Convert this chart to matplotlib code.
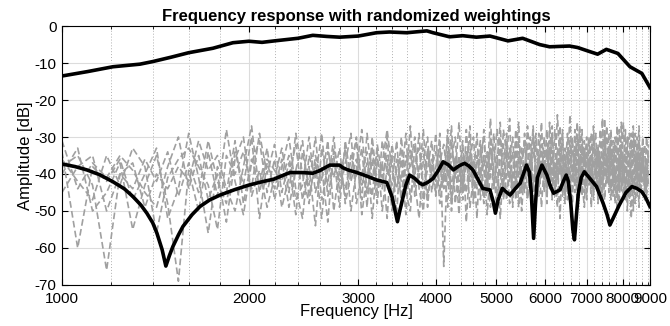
import matplotlib
matplotlib.use('Agg')
import matplotlib.pyplot as plt
from matplotlib.ticker import FixedLocator, NullFormatter

plt.rcParams['font.family'] = ['Liberation Sans', 'DejaVu Sans']
plt.rcParams['axes.unicode_minus'] = False

# black curve: overall frequency response
top_freq = [1000, 1100, 1208, 1335, 1400, 1500, 1600, 1750, 1885, 2000, 2100, 2200,
            2400, 2535, 2670, 2800, 3000, 3210, 3370, 3590, 3870, 3960, 4210, 4420,
            4650, 4890, 5230, 5520, 5880, 6100, 6570, 6770, 7080, 7290, 7530, 7860,
            8220, 8590, 8850]
top_db = [-13.5, -12.3, -11.0, -10.3, -9.6, -8.4, -7.2, -6.0, -4.5, -4.1, -4.4, -4.0,
          -3.3, -2.5, -2.8, -3.0, -2.7, -1.8, -1.6, -1.8, -1.3, -1.8, -2.9, -2.6,
          -3.0, -2.7, -4.0, -3.3, -5.0, -5.6, -5.4, -5.8, -6.9, -7.6, -6.3, -7.4,
          -11.0, -12.8, -16.6]

# black curve: lower response
low_freq = [1000, 1050, 1097, 1150, 1208, 1260, 1301, 1340, 1370, 1400, 1422, 1450,
            1470, 1490, 1509, 1540, 1566, 1620, 1668, 1730, 1797, 1900, 2000, 2100,
            2194, 2260, 2330, 2430, 2535, 2600, 2700, 2800, 2833, 2900, 2985, 3100,
            3210, 3335, 3400, 3440, 3470, 3500, 3540, 3580, 3630, 3700, 3770, 3810,
            3880, 3960, 4040, 4110, 4190, 4270, 4360, 4450, 4520, 4590, 4680, 4760,
            4890, 4950, 4990, 5040, 5120, 5190, 5270, 5370, 5470, 5550, 5600, 5660,
            5700, 5750, 5790, 5830, 5930, 6040, 6110, 6190, 6340, 6420, 6490, 6540,
            6600, 6650, 6690, 6740, 6790, 6860, 6940, 7100, 7260, 7440, 7550, 7630,
            7720, 7900, 8100, 8280, 8430, 8590, 8720, 8850]
low_db = [-37.3, -38.0, -38.9, -40.2, -42.1, -44.0, -46.1, -48.4, -50.6, -53.2, -56.0, -60.5,
          -64.9, -62.0, -59.6, -56.5, -54.2, -51.0, -48.8, -47.0, -45.7, -44.2, -43.0, -42.1,
          -41.4, -40.5, -39.6, -39.6, -39.8, -39.1, -37.6, -37.6, -38.3, -39.0, -39.6, -40.6,
          -41.6, -42.3, -46.1, -50.0, -52.9, -50.0, -46.5, -43.0, -40.3, -41.2, -42.5, -42.9,
          -42.3, -41.2, -39.0, -36.7, -37.5, -38.9, -37.8, -37.1, -37.8, -38.9, -41.5, -43.9,
          -44.3, -47.5, -50.6, -47.0, -43.9, -44.8, -45.7, -44.0, -42.5, -39.5, -37.6, -39.5,
          -45.0, -57.4, -48.0, -41.0, -37.6, -40.3, -43.0, -45.2, -44.3, -42.0, -40.3, -42.0,
          -48.0, -55.0, -57.8, -51.0, -45.0, -41.0, -39.4, -41.4, -43.4, -47.9, -51.0, -53.8,
          -52.0, -48.4, -45.0, -43.4, -43.9, -44.8, -46.5, -48.8]

# gray curves: responses with randomized weightings (60 Hz bins)
gray_freq = list(range(1000, 8801, 60))
gray_a = [-34, -60, -38, -42, -36, -47, -40, -33, -52, -44,
          -29, -41, -56, -38, -45, -31, -48, -36, -43, -33,
          -47, -38, -30, -44, -52, -35, -41, -29, -46, -37,
          -42, -33, -50, -39, -28, -45, -36, -48, -31, -40,
          -35, -51, -30, -43, -27, -46, -38, -33, -49, -36,
          -42, -29, -65, -34, -47, -40, -26, -44, -37, -31,
          -48, -35, -41, -28, -45, -33, -39, -50, -30, -43,
          -36, -25, -46, -38, -32, -44, -29, -41, -35, -48,
          -31, -39, -26, -45, -37, -33, -47, -28, -42, -36,
          -30, -44, -38, -24, -41, -34, -49, -29, -40, -35,
          -45, -31, -37, -27, -43, -33, -39, -48, -30, -36,
          -42, -28, -46, -35, -31, -44, -38, -26, -40, -34,
          -47, -32, -37, -29, -43, -36, -41, -33, -45, -38, -40]
gray_b = [-40, -33, -50, -45, -37, -55, -43, -35, -48, -69,
          -39, -50, -34, -46, -28, -42, -51, -37, -31, -45,
          -36, -49, -41, -32, -47, -38, -54, -33, -43, -30,
          -45, -37, -29, -48, -40, -34, -52, -36, -44, -30,
          -47, -39, -33, -45, -50, -32, -41, -28, -46, -38,
          -34, -48, -40, -30, -44, -36, -51, -33, -39, -27,
          -43, -37, -31, -46, -40, -25, -44, -35, -52, -38,
          -29, -42, -34, -47, -30, -39, -45, -27, -36, -43,
          -38, -46, -32, -40, -28, -44, -35, -41, -24, -37,
          -43, -33, -47, -36, -30, -45, -38, -27, -42, -49,
          -34, -40, -29, -44, -37, -32, -46, -25, -41, -35,
          -38, -47, -31, -43, -36, -28, -45, -39, -33, -50,
          -35, -42, -27, -39, -46, -31, -40, -36, -44, -30, -37]
gray_c = [-31, -44, -37, -41, -35, -39, -45, -49, -38, -30,
          -44, -35, -47, -40, -53, -36, -30, -46, -39, -49,
          -41, -33, -45, -29, -40, -48, -35, -42, -31, -50,
          -38, -46, -35, -41, -33, -49, -30, -43, -37, -52,
          -32, -40, -46, -35, -38, -30, -44, -50, -34, -41,
          -29, -45, -37, -49, -31, -41, -35, -47, -28, -42,
          -36, -52, -33, -39, -45, -30, -42, -37, -26, -47,
          -40, -33, -49, -28, -41, -36, -31, -46, -38, -27,
          -44, -34, -41, -30, -48, -26, -39, -45, -33, -40,
          -28, -46, -35, -41, -32, -39, -26, -44, -37, -31,
          -47, -36, -42, -30, -38, -45, -28, -40, -34, -43,
          -29, -39, -35, -48, -27, -41, -33, -46, -37, -30,
          -40, -52, -34, -44, -30, -38, -45, -33, -41, -36, -43]
gray_d = [-36, -42, -47, -35, -43, -33, -38, -56, -41, -36,
          -33, -38, -43, -55, -35, -40, -34, -44, -29, -40,
          -32, -45, -37, -51, -34, -43, -30, -47, -39, -35,
          -49, -31, -42, -36, -47, -29, -41, -34, -50, -38,
          -43, -31, -48, -37, -33, -42, -52, -36, -30, -45,
          -38, -33, -44, -28, -50, -35, -42, -31, -53, -36,
          -30, -44, -38, -48, -34, -41, -29, -46, -36, -32,
          -47, -37, -30, -43, -35, -50, -38, -32, -44, -29,
          -41, -35, -49, -37, -33, -42, -30, -46, -36, -52,
          -35, -40, -29, -47, -37, -43, -33, -39, -28, -45,
          -38, -30, -49, -36, -41, -34, -44, -31, -47, -39,
          -33, -44, -40, -30, -46, -37, -32, -42, -28, -45,
          -38, -29, -50, -35, -41, -27, -44, -37, -32, -46, -39]
gray_e = [-45, -38, -35, -50, -40, -44, -36, -42, -34, -46,
          -37, -45, -31, -42, -48, -34, -43, -30, -52, -37,
          -44, -36, -49, -39, -31, -46, -37, -52, -34, -41,
          -33, -48, -40, -30, -43, -37, -46, -32, -41, -35,
          -50, -36, -42, -29, -47, -37, -33, -43, -39, -31,
          -46, -37, -32, -41, -27, -48, -38, -44, -34, -49,
          -41, -29, -47, -35, -51, -38, -33, -42, -45, -28,
          -34, -48, -39, -35, -26, -45, -41, -37, -30, -42,
          -47, -29, -37, -43, -35, -39, -27, -44, -38, -31,
          -46, -37, -41, -31, -48, -28, -43, -35, -46, -33,
          -41, -36, -44, -33, -29, -48, -35, -43, -37, -27,
          -45, -34, -41, -39, -50, -33, -43, -35, -47, -32,
          -29, -45, -39, -48, -34, -43, -38, -30, -47, -41, -35]
gray_f = [-38, -35, -43, -66, -40, -37, -49, -40, -44, -38,
          -42, -31, -39, -35, -44, -50, -38, -27, -45, -36,
          -39, -42, -35, -47, -43, -30, -45, -38, -53, -33,
          -40, -44, -36, -31, -51, -40, -33, -45, -37, -28,
          -39, -44, -36, -51, -35, -41, -29, -47, -33, -40,
          -45, -35, -38, -43, -36, -30, -46, -39, -45, -34,
          -47, -40, -35, -30, -42, -49, -37, -28, -40, -44,
          -31, -38, -43, -32, -49, -33, -40, -47, -41, -35,
          -29, -43, -39, -34, -45, -31, -42, -37, -49, -27,
          -39, -48, -33, -42, -44, -36, -31, -45, -32, -38,
          -30, -43, -35, -47, -33, -40, -37, -45, -25, -42,
          -36, -31, -43, -33, -38, -48, -26, -37, -44, -39,
          -43, -36, -31, -40, -36, -49, -33, -42, -38, -45, -32]
gray_all = [gray_a, gray_b, gray_c, gray_d, gray_e, gray_f]

x_ticks = [1000, 2000, 3000, 4000, 5000, 6000, 7000, 8000]
x_max = 8850


fig = plt.figure(figsize=(6.7, 3.26), dpi=100)
ax = fig.add_axes([0.0925, 0.126, 0.8775, 0.794])

for g in gray_all:
    ax.plot(gray_freq, g, color='#a0a0a0', lw=1.2, dashes=(4, 2))
ax.plot(top_freq, top_db, color='k', lw=2.6)
ax.plot(low_freq, low_db, color='k', lw=2.6)

ax.set_xscale('log')
ax.set_xlim(1000, x_max)
ax.set_ylim(-70, 0)

ax.xaxis.set_major_locator(FixedLocator(x_ticks + [x_max]))
ax.set_xticklabels([str(t) for t in x_ticks] + ['9000'])
minor = [f for f in range(1200, 8801, 200) if f % 1000 != 0]
ax.xaxis.set_minor_locator(FixedLocator(minor))
ax.xaxis.set_minor_formatter(NullFormatter())
ax.set_yticks(range(-70, 1, 10))

ax.grid(which='major', color='#dcdcdc', lw=0.8, ls='-')
ax.grid(which='minor', axis='x', color='#b0b0b0', lw=0.7, ls=(0, (1, 2)))
ax.set_axisbelow(True)

ax.tick_params(which='both', direction='in', top=True, right=True, labelsize=11)
ax.tick_params(axis='x', pad=5)
ax.tick_params(axis='y', pad=4)
ax.tick_params(which='major', length=4)
ax.tick_params(which='minor', length=2.5)
for s in ax.spines.values():
    s.set_linewidth(0.8)

ax.set_xlabel('Frequency [Hz]', fontsize=12, labelpad=-1)
ax.set_ylabel('Amplitude [dB]', fontsize=12, labelpad=1)
ax.set_title('Frequency response with randomized weightings', fontsize=12,
             fontweight='bold', pad=4)

fig.savefig('out.png', dpi=100)
